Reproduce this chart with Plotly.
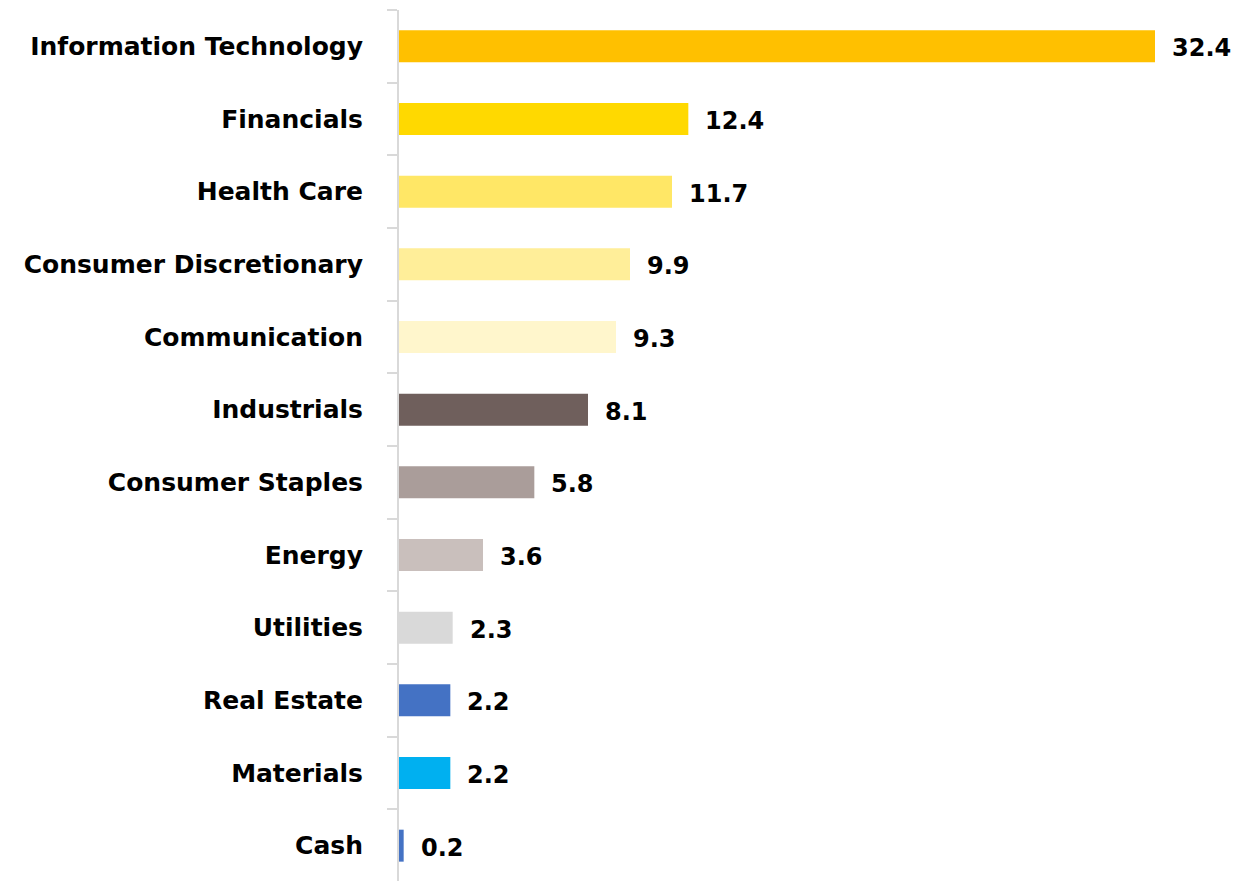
import plotly.graph_objects as go

categories = ["Information Technology", "Financials", "Health Care", "Consumer Discretionary",
              "Communication", "Industrials", "Consumer Staples", "Energy", "Utilities",
              "Real Estate", "Materials", "Cash"]
values = [32.4, 12.4, 11.7, 9.9, 9.3, 8.1, 5.8, 3.6, 2.3, 2.2, 2.2, 0.2]
colors = ["#FFC000", "#FFD900", "#FFE766", "#FFEE99", "#FFF6CC", "#6F5F5C", "#AA9D9A",
          "#C9BFBC", "#D9D9D9", "#4472C4", "#00B0F0", "#4472C4"]

FONT = "DejaVu Sans"
WEIGHT = "bold"

fig = go.Figure(go.Bar(
    x=values, y=categories, orientation="h",
    marker=dict(color=colors, line=dict(width=0)),
    width=0.44,
))

for c, v in zip(categories, values):
    fig.add_annotation(x=v, y=c, text=f"{v:.1f}", showarrow=False, xanchor="left",
                       xshift=15, yshift=-2,
                       font=dict(family=FONT, size=24, color="#000000", weight=WEIGHT))

fig.update_layout(
    width=1240, height=881,
    margin=dict(l=391, r=9, t=2, b=7),
    plot_bgcolor="white", paper_bgcolor="white",
    showlegend=False,
    xaxis=dict(range=[0, 36.0], visible=False, fixedrange=True, automargin=False),
    yaxis=dict(
        categoryorder="array", categoryarray=categories, autorange="reversed",
        automargin=False,
        showline=True, linecolor="#D9D9D9", linewidth=2,
        ticks="outside", tickson="boundaries", ticklen=10, tickcolor="#D9D9D9", tickwidth=2,
        ticklabelstandoff=29,
        tickfont=dict(family=FONT, size=25, color="#000000", weight=WEIGHT),
        showgrid=False, zeroline=False,
    ),
)

fig.write_html("out.html")
